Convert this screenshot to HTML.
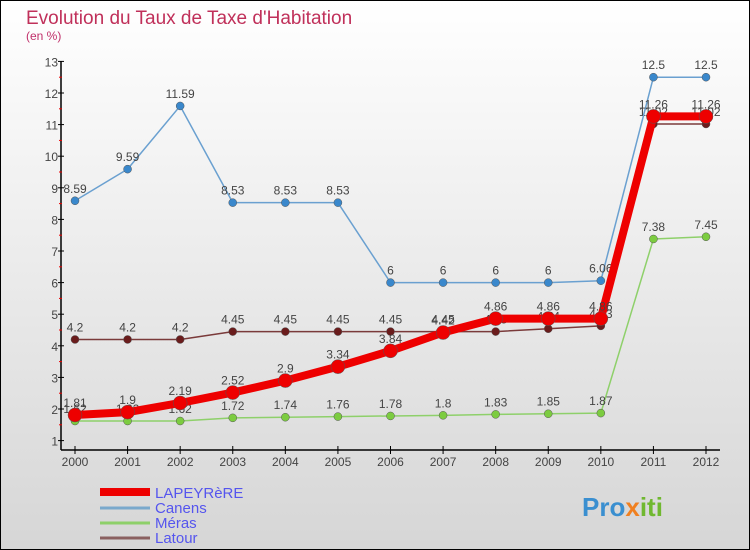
<!DOCTYPE html>
<html><head><meta charset="utf-8"><style>
body{margin:0;width:750px;height:550px;overflow:hidden;font-family:"Liberation Sans",sans-serif}
#c{position:absolute;left:0;top:0;width:748px;height:548px;border:1px solid #000;background:linear-gradient(#fff,#d6d6d6)}
</style></head><body>
<div id="c">
<svg id="s" width="750" height="550" style="position:absolute;left:-1px;top:-1px">
<text x="26" y="24" font-size="19" fill="#c0305a">Evolution du Taux de Taxe d'Habitation</text>
<text x="26" y="40" font-size="12" fill="#c0306a">(en %)</text>
<g id="ax"></g><g id="series"></g>
<g>
<line x1="100" y1="492" x2="150" y2="492" stroke="#e00" stroke-width="8"/><text x="155" y="498" font-size="15" fill="#5555ee">LAPEYRèRE</text>
<line x1="100" y1="508" x2="150" y2="508" stroke="#7aa9cc" stroke-width="3"/><text x="155" y="513" font-size="15" fill="#5555ee">Canens</text>
<line x1="100" y1="523" x2="150" y2="523" stroke="#8ed06a" stroke-width="3"/><text x="155" y="528" font-size="15" fill="#5555ee">Méras</text>
<line x1="100" y1="538" x2="150" y2="538" stroke="#8a6060" stroke-width="3"/><text x="155" y="543" font-size="15" fill="#5555ee">Latour</text>
</g>
<text x="582" y="516" font-size="26" font-weight="bold" fill="#3a8fd0">Pro<tspan fill="#f08020">x</tspan><tspan fill="#70b830">iti</tspan></text>
</svg></div>
<script>
const years=[2000,2001,2002,2003,2004,2005,2006,2007,2008,2009,2010,2011,2012];
const yTicks=[1,2,3,4,5,6,7,8,9,10,11,12,13];
const lapeyrere=[1.81,1.9,2.19,2.52,2.9,3.34,3.84,4.42,4.86,4.86,4.86,11.26,11.26];
const canens=[8.59,9.59,11.59,8.53,8.53,8.53,6,6,6,6,6.06,12.5,12.5];
const meras=[1.62,1.62,1.62,1.72,1.74,1.76,1.78,1.8,1.83,1.85,1.87,7.38,7.45];
const latour=[4.2,4.2,4.2,4.45,4.45,4.45,4.45,4.45,4.45,4.54,4.63,11.02,11.02];
const X=i=>75+i*(706-75)/(years.length-1);
const Y=v=>440.6-(v-1)*31.6;
const NS="http://www.w3.org/2000/svg";
function mk(t,a,p){const e=document.createElementNS(NS,t);for(const k in a)e.setAttribute(k,a[k]);p.appendChild(e);return e;}
const ax=document.getElementById('ax');
mk('line',{x1:61,y1:Y(13),x2:61,y2:450,stroke:'#000','stroke-width':1.5},ax);
mk('line',{x1:61,y1:450,x2:720,y2:450,stroke:'#000','stroke-width':1.5},ax);
yTicks.forEach(v=>{
const t=mk('text',{x:58,y:Y(v)+5,'font-size':12,fill:'#444','text-anchor':'end'},ax);t.textContent=v;


mk('line',{x1:58,y1:Y(v),x2:64,y2:Y(v),stroke:'#000'},ax);
if(v<13)mk('line',{x1:59,y1:Y(v+0.5),x2:62,y2:Y(v+0.5),stroke:'#e00'},ax);
});
years.forEach((yr,i)=>{
mk('line',{x1:X(i),y1:446,x2:X(i),y2:454,stroke:'#000'},ax);
const t=mk('text',{x:X(i),y:466,'font-size':12,fill:'#444','text-anchor':'middle'},ax);t.textContent=yr;


});
const sg=document.getElementById('series');
function draw(name,vals,col,w,r,fill){
const g=mk('g',{},sg);


mk('polyline',{points:vals.map((v,i)=>X(i)+','+Y(v)).join(' '),fill:'none',stroke:col,'stroke-width':w,'stroke-linejoin':'round'},g);
vals.forEach((v,i)=>{
const c=mk('circle',{cx:X(i),cy:Y(v),r:r,fill:fill,stroke:'#555','stroke-width':0.5},g);


const t=mk('text',{x:X(i),y:Y(v)-8,'font-size':12,fill:'#444','text-anchor':'middle'},g);t.textContent=v;
});
}
draw('latour',latour,'#7a3a3a',1.5,4,'#6a1c1c');
draw('meras',meras,'#8ed06a',1.5,4,'#7ccc40');
draw('canens',canens,'#6aa0d0',1.5,4,'#3a88cc');
draw('lapeyrere',lapeyrere,'#ee0000',8,7,'#ee0000');
</script>
</body></html>
